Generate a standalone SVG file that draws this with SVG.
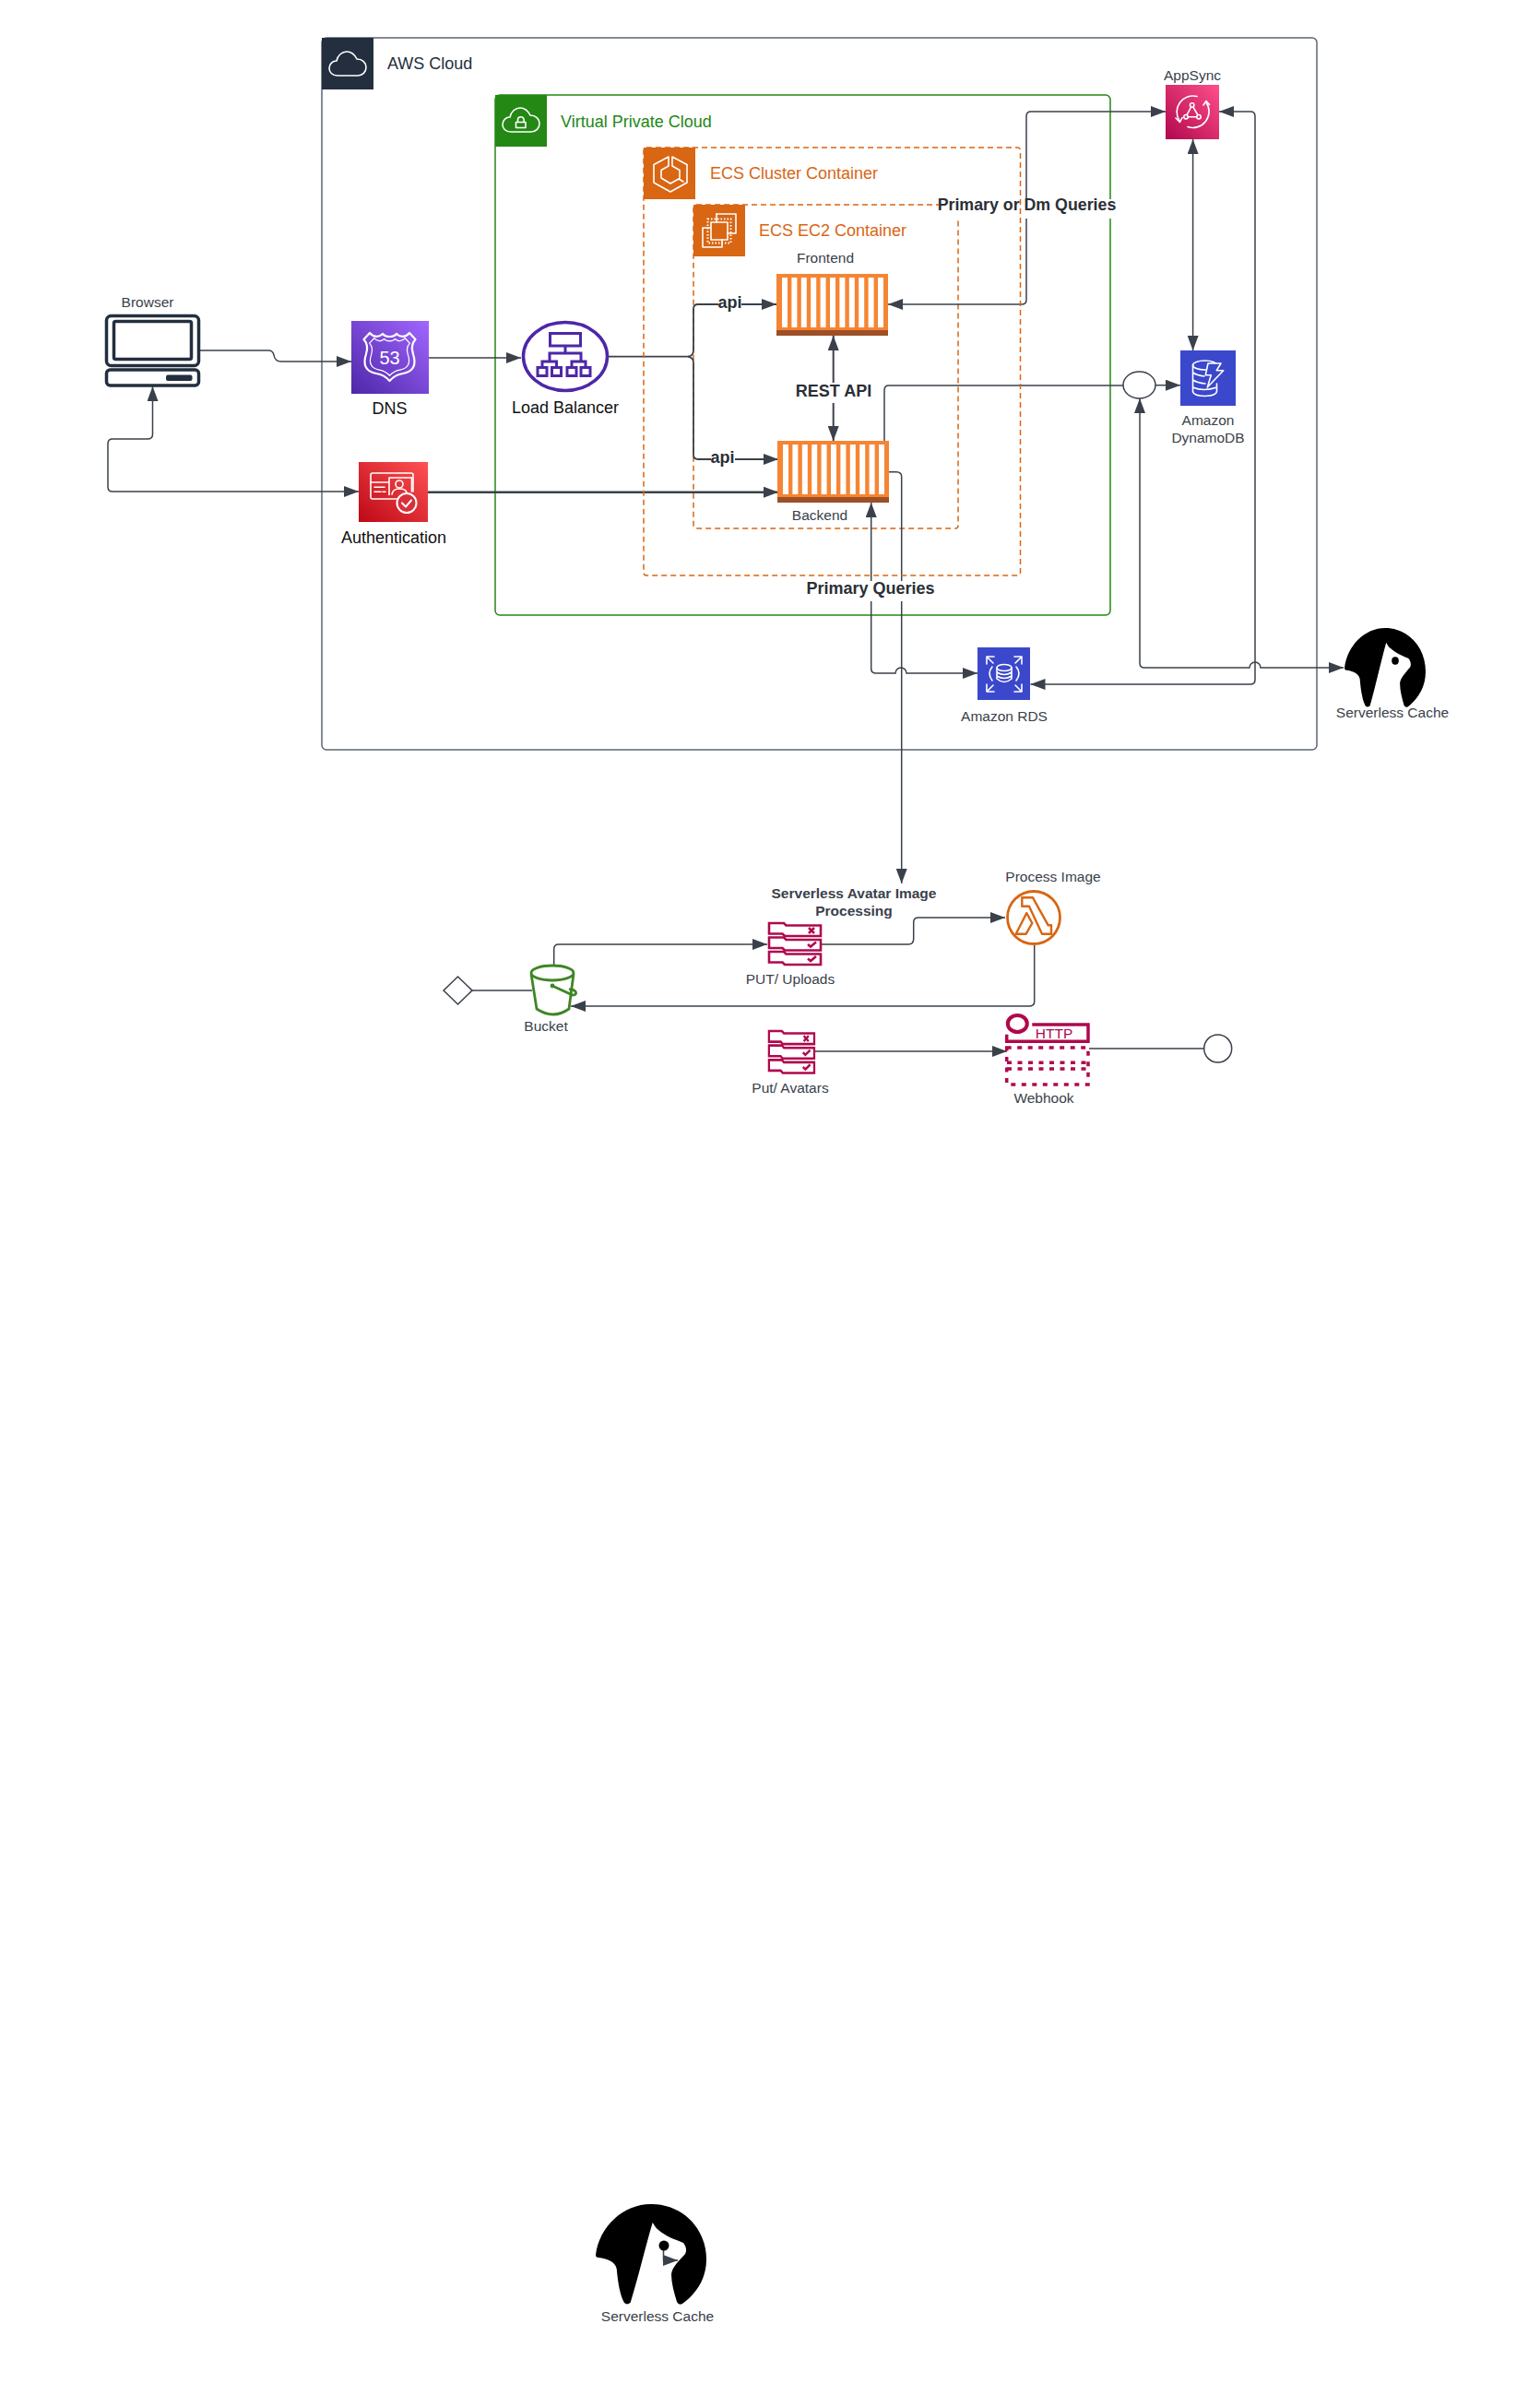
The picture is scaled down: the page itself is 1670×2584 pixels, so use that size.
<svg xmlns="http://www.w3.org/2000/svg" xmlns:xlink="http://www.w3.org/1999/xlink" width="1670" height="2584" viewBox="0 0 1670 2584">
<style>
text{font-family:"Liberation Sans",Arial,sans-serif}
.lbl{font-size:15.5px;fill:#3a414a;text-anchor:middle}
.blk{font-size:18px;fill:#111;text-anchor:middle}
.bold{font-size:18px;font-weight:700;fill:#2b2f36;text-anchor:middle}
.bold2{font-size:15.5px;font-weight:700;fill:#3a414a;text-anchor:middle}
.ttl{font-size:18px}
.c{fill:none;stroke:#3a414a;stroke-width:1.5}
.ar{marker-end:url(#a)}
.ar2{marker-end:url(#a);marker-start:url(#a)}
.w{fill:none;stroke:#fff;stroke-width:1.6;stroke-linejoin:round;stroke-linecap:round}
.w3{fill:none;stroke:#fff;stroke-width:2.2;stroke-linejoin:round;stroke-linecap:round}
.box{fill:#fff}
.dash{fill:none;stroke:#D86613;stroke-width:1.5;stroke-dasharray:6 4}
.cr{fill:none;stroke:#B0084D;stroke-width:2.6}
.o{fill:#F58534}
.od{fill:#9D5025}
</style>
<defs>
<marker id="a" markerUnits="userSpaceOnUse" markerWidth="16" markerHeight="12" refX="16" refY="6" orient="auto-start-reverse"><path d="M0,0 L16,6 L0,12 Z" fill="#3a414a"/></marker>
<linearGradient id="gp" x1="0" y1="1" x2="1" y2="0"><stop offset="0" stop-color="#4D27A8"/><stop offset="1" stop-color="#A166FF"/></linearGradient>
<linearGradient id="gr" x1="0" y1="1" x2="1" y2="0"><stop offset="0" stop-color="#BD0816"/><stop offset="1" stop-color="#FF5252"/></linearGradient>
<linearGradient id="gk" x1="0" y1="1" x2="1" y2="0"><stop offset="0" stop-color="#B0084D"/><stop offset="1" stop-color="#FF4F8B"/></linearGradient>
<path id="cloud" d="M9,26 C3,26 0,22 0,18 C0,13 4,10 8,10 C9,4 14,0 19,0 C25,0 28,4 30,8 C36,8 40,12 40,17 C40,22 36,26 31,26 Z"/>
<path id="dog" d="M0,55 C4,24 30,0 60,0 C95,0 120,27 120,60 C120,82 108,98 94,108 Q90,110 88,106 C85,96 82,86 82,76 C83,68 90,62 97,54 C99,50 98,46 95,42 C85,38 76,35 68,28 C65,26 63,22 61.700,20 C54,46 46,80 37.700,106.700 Q34,110 31,107 C26,98 24,84 22.700,70 C21,62 12,59 3,58 Q0,58 0,55 Z" fill="#000"/>
<g id="row"><path class="cr" d="M1,1 H17 L19.500,3.500 H57 V15 H18 L15.500,12.500 H1 Z"/></g>
<g id="stack">
<use xlink:href="#row"/><use xlink:href="#row" y="15.500"/><use xlink:href="#row" y="31"/>
<path class="cr" d="M44,6 L50,12 M50,6 L44,12"/>
<path class="cr" d="M43,24 L46,26.500 L52,21.500 M43,39.500 L46,42 L52,37"/>
</g>
<g id="cont">
<rect width="121" height="67" class="o"/>
<rect y="61" width="121" height="6" class="od"/>
<rect x="6" y="4" width="6" height="54" class="box"/><rect x="16.400" y="4" width="6" height="54" class="box"/><rect x="26.800" y="4" width="6" height="54" class="box"/><rect x="37.200" y="4" width="6" height="54" class="box"/><rect x="47.600" y="4" width="6" height="54" class="box"/><rect x="58" y="4" width="6" height="54" class="box"/><rect x="68.400" y="4" width="6" height="54" class="box"/><rect x="78.800" y="4" width="6" height="54" class="box"/><rect x="89.200" y="4" width="6" height="54" class="box"/><rect x="99.600" y="4" width="6" height="54" class="box"/><rect x="110" y="4" width="6" height="54" class="box"/>
</g>
</defs>
<rect width="1670" height="2584" fill="#fff"/>

<g id="aws-cloud">
<rect x="349" y="41" width="1079" height="772" rx="5" fill="none" stroke="#5d6673" stroke-width="1.500"/>
<rect x="349" y="41" width="56" height="56" fill="#232F3E"/>
<use xlink:href="#cloud" x="357" y="56" style="fill:none;stroke:#fff;stroke-width:1.600"/>
<text x="420" y="75" class="ttl" fill="#232F3E">AWS Cloud</text>
</g>

<g id="vpc">
<rect x="537" y="103" width="667" height="564" rx="5" fill="none" stroke="#248814" stroke-width="1.500"/>
<rect x="537" y="103" width="56" height="56" fill="#248814"/>
<use xlink:href="#cloud" x="545" y="117" style="fill:none;stroke:#fff;stroke-width:1.600"/>
<rect x="559.500" y="132.500" width="10.500" height="6" class="w"/><path class="w" d="M561.500,132 V130 a3.300,3.300 0 0 1 6.600,0 V132"/>
<text x="608" y="137.500" class="ttl" fill="#248814">Virtual Private Cloud</text>
</g>

<g id="ecs-ec2-container">
<rect x="752" y="222" width="287" height="351" rx="3" class="dash"/>
<rect x="752" y="222" width="56" height="56" fill="#D86613"/>
<path class="w" d="M777,232 H798 V253 H789 M762,247 H770 M762,247 V268 H783 V260"/>
<path class="w" d="M777,232 V241"/>
<rect x="771" y="241" width="18" height="19" class="w"/>
<rect x="767.500" y="237.500" width="25" height="26" fill="none" stroke="#fff" stroke-width="2" stroke-dasharray="1.500 2"/>
<text x="823" y="256" class="ttl" fill="#D86613">ECS EC2 Container</text>
</g>

<g id="connectors">
<path class="c ar" d="M217,380 H291 Q296,380 297,385 Q298,392 305,392 H381"/>
<path class="c ar" d="M465,388 H565"/>
<path class="c ar2" d="M165.500,419 V471 Q165.500,476 160,476 H122 Q117,476 117,481 V528 Q117,533 122,533 H389"/>
<path class="c ar" style="stroke-width:2.400" d="M464,533.700 H844"/>
<path class="c ar" style="stroke-width:1.800" d="M660,386.700 H746 Q752,386 752,380 V335 Q752,330 757,330 H842"/>
<path class="c ar" style="stroke-width:1.800" d="M746,386.700 Q752,388 752,393 V493 Q752,498 757,498 H844"/>
<path class="c ar2" style="stroke-width:2" d="M903.700,364 V478"/>
<path class="c ar2" d="M963,330 H1108 Q1113,330 1113,325 V126 Q1113,121 1118,121 H1264"/>
<path class="c ar2" d="M1322,121 H1356 Q1361,121 1361,126 V737 Q1361,742 1356,742 H1117.500"/>
<path class="c ar2" d="M1293.600,151 V380"/>
<path class="c" d="M959,478 V423 Q959,418 964,418 H1218"/>
<path class="c ar" d="M1253,417.700 H1280"/>
<path class="c ar2" d="M1236,432 V719 Q1236,724 1241,724 H1355 a6,6 0 0 1 12,0 H1457"/>
<path class="c ar" d="M964,511.700 H972 Q977.700,511.700 977.700,517 V958"/>
<path class="c ar2" d="M944.700,545 V725 Q944.700,730 950,730 H971 a6,6 0 0 1 12,0 H1060"/>
<path class="c" d="M512,1074 H577"/>
<path class="c ar" d="M600.700,1047 V1029 Q600.700,1024 606,1024 H832"/>
<path class="c ar" d="M890,1024 H985 Q990.700,1024 990.700,1018 V1000 Q990.700,995 996,995 H1090"/>
<path class="c ar" d="M1121.700,1025 V1086 Q1121.700,1091 1116,1091 H619"/>
<path class="c ar" d="M883,1140 H1092"/>
<path class="c" d="M1181,1137 H1305.700"/>
<path class="c ar" d="M719.500,2437 V2451 H735"/>
</g>

<g id="edge-labels">
<rect x="779" y="320" width="25" height="21" class="box"/><text x="791.500" y="334" class="bold">api</text>
<rect x="771" y="487" width="26" height="21" class="box"/><text x="783.500" y="502" class="bold">api</text>
<rect x="864" y="415" width="80" height="22" class="box"/><text x="904" y="430" class="bold">REST API</text>
<rect x="1018" y="216" width="191" height="21" class="box"/><text x="1113.500" y="227.500" class="bold" style="font-size:17.800px">Primary or Dm Queries</text>
<rect x="876" y="630" width="136" height="22" class="box"/><text x="944" y="644" class="bold">Primary Queries</text>
</g>

<g id="ecs-cluster-container">
<rect x="698" y="160" width="408.500" height="464" rx="3" class="dash"/>
<rect x="698" y="160" width="56" height="56" fill="#D86613"/>
<path class="w" d="M725,170 L709,178.500 V198 L727,208 L745,198 V178.500 L729,170 V180 L737,184.500 V193 M725,170 V180 L717,184.500 V193 L727,199 L736,194 L741,197"/>
<text x="770" y="194" class="ttl" fill="#D86613">ECS Cluster Container</text>
</g>

<g id="browser">
<rect x="115.500" y="342.500" width="100" height="54" rx="5" fill="none" stroke="#232F3E" stroke-width="3.500"/>
<rect x="123.500" y="348.500" width="84" height="41" rx="2" fill="none" stroke="#232F3E" stroke-width="3.500"/>
<rect x="115.500" y="401" width="100" height="17" rx="4" fill="none" stroke="#232F3E" stroke-width="3.500"/>
<rect x="180" y="406.500" width="28.500" height="6.500" rx="2" fill="#232F3E"/>
<text x="160" y="333" class="lbl">Browser</text>
</g>

<g id="dns">
<rect x="381" y="348" width="84" height="79" fill="url(#gp)"/>
<path class="w3" d="M394.500,368 L401,361 C405,366 411,366 415,362 C418,366 427,366 430,362 C434,366 440,366 444,361 L450.500,368 C446,373 446,378 448,384 C452,396 448,403 437,405 C431,406 426,409 422.500,413 C419,409 414,406 408,405 C397,403 393,396 397,384 C399,378 399,373 394.500,368 Z"/>
<path class="w" transform="translate(422.500 387) scale(.78) translate(-422.500 -387)" d="M394.500,368 L401,361 C405,366 411,366 415,362 C418,366 427,366 430,362 C434,366 440,366 444,361 L450.500,368 C446,373 446,378 448,384 C452,396 448,403 437,405 C431,406 426,409 422.500,413 C419,409 414,406 408,405 C397,403 393,396 397,384 C399,378 399,373 394.500,368 Z"/>
<text x="422.500" y="395" font-size="20" fill="#fff" text-anchor="middle">53</text>
<text x="422.500" y="449" class="blk">DNS</text>
</g>

<g id="load-balancer">
<ellipse cx="613" cy="386.500" rx="45.500" ry="37" fill="#fff" stroke="#4D27A8" stroke-width="3.500"/>
<g fill="none" stroke="#4D27A8" stroke-width="3">
<rect x="596.500" y="361.500" width="33" height="13.500"/>
<path d="M613,375 V383 M596,392 V383 H630 V392 M588,398 V392 H603.500 V398 M620,398 V392 H635 V398"/>
<rect x="583" y="398.500" width="10" height="9"/><rect x="598.500" y="398.500" width="10" height="9"/><rect x="615" y="398.500" width="10" height="9"/><rect x="630" y="398.500" width="10" height="9"/>
</g>
<text x="613" y="448" class="blk">Load Balancer</text>
</g>

<g id="authentication">
<rect x="389" y="501" width="75" height="65" fill="url(#gr)"/>
<path class="w" d="M431,541 H404 Q402,541 402,539 V515 Q402,513 404,513 H446 Q448,513 448,515 V533"/>
<path class="w" d="M402,523 H422 M422,536.500 V518 H446.500 V533 M406,528.300 H417 M406,533.300 H413 M415,533.300 H418"/>
<circle cx="433" cy="525" r="4" class="w"/>
<path class="w" d="M425,536 Q426,530 433,530 Q440,530 441,534"/>
<circle cx="441" cy="545.500" r="10.500" fill="#d8303a" stroke="#fff" stroke-width="2"/>
<path class="w" style="stroke-width:2" d="M436,545.500 L440,549.500 L446,542.500"/>
<text x="427" y="589" class="blk">Authentication</text>
</g>

<g id="frontend">
<use xlink:href="#cont" x="842" y="297"/>
<text x="895" y="285" class="lbl">Frontend</text>
</g>

<g id="backend">
<use xlink:href="#cont" x="843" y="478"/>
<text x="889" y="563.500" class="lbl">Backend</text>
</g>

<g id="appsync">
<rect x="1264" y="92" width="58" height="59" fill="url(#gk)"/>
<path class="w" d="M1298,104.500 A17.500,17.500 0 0 0 1279,131 M1288,137.500 A17.500,17.500 0 0 0 1308,111"/>
<path class="w" d="M1275,128 L1279.500,132.500 L1282,127.500 M1305,114 L1308,109.500 L1311.500,113.500"/>
<path class="w" d="M1292.700,114 L1300,126.700 H1286 Z"/>
<circle cx="1292.700" cy="114" r="2.200" class="w" style="fill:#d62a68"/><circle cx="1286" cy="126.700" r="2.200" class="w" style="fill:#d62a68"/><circle cx="1300" cy="126.700" r="2.200" class="w" style="fill:#d62a68"/>
<text x="1293" y="87" class="lbl">AppSync</text>
</g>

<g id="dynamodb">
<rect x="1280" y="380" width="60" height="60" fill="#3B48CC"/>
<ellipse cx="1306.500" cy="396" rx="13" ry="5" class="w"/>
<path class="w" d="M1293.500,396 V424 Q1293.500,429 1306.500,429.500 Q1319.500,429 1319.500,424 V416 M1293.500,404 Q1298,407 1306,408 M1293.500,412 Q1298,415 1307,416 M1293.500,420 Q1305,425 1319.500,420"/>
<path class="w" d="M1310,394 H1324 L1319.300,401.700 H1326.700 L1309.300,420 L1313.300,406.700 H1307.300 Z" style="fill:#3B48CC"/>
<text x="1310" y="460.500" class="lbl">Amazon</text>
<text x="1310" y="480" class="lbl">DynamoDB</text>
</g>

<g id="junction-top">
<ellipse cx="1235.500" cy="417.500" rx="17.500" ry="14.500" fill="#fff" stroke="#3a414a" stroke-width="1.500"/>
</g>

<g id="rds">
<rect x="1060" y="702" width="57" height="57" fill="#3B48CC"/>
<ellipse cx="1089" cy="724" rx="8" ry="3.500" class="w"/>
<path class="w" d="M1081,724 V736 Q1089,743 1097,736 V724 M1081,729 Q1089,734 1097,729 M1081,733 Q1089,738 1097,733"/>
<path class="w" d="M1076,723 Q1070,730 1076,738 M1102,723 Q1108,730 1102,738"/>
<path class="w" d="M1070,720 V712 H1078 M1070,712 L1077,719 M1108,720 V712 H1100 M1108,712 L1101,719 M1070,742 V750 H1078 M1070,750 L1077,743 M1108,742 V750 H1100 M1108,750 L1101,743"/>
<text x="1089" y="782" class="lbl">Amazon RDS</text>
</g>

<g id="cache-top">
<use xlink:href="#dog" transform="translate(1458 681) scale(.733 .789)"/>
<ellipse cx="1513" cy="716.500" rx="3.800" ry="4.200" fill="#000"/>
<text x="1510" y="778" class="lbl">Serverless Cache</text>
</g>

<g id="bucket">
<ellipse cx="599" cy="1055" rx="23" ry="8" fill="none" stroke="#3F8624" stroke-width="2.800"/>
<path d="M576,1056 L582,1094 Q600,1106 617,1094 L622,1056" fill="none" stroke="#3F8624" stroke-width="2.800"/>
<path d="M599,1069 L621,1079 Q626,1079 624,1075 Q621,1072 617,1073" fill="none" stroke="#3F8624" stroke-width="2.800"/>
<circle cx="599" cy="1069" r="2.400" fill="#3F8624"/>
<text x="592" y="1118" class="lbl">Bucket</text>
</g>

<g id="bucket-start">
<path d="M496.500,1059 L512,1074 L496.500,1089 L481,1074 Z" fill="#fff" stroke="#3a414a" stroke-width="1.500"/>
</g>

<g id="put-uploads">
<use xlink:href="#stack" x="833" y="1000"/>
<text x="857" y="1067" class="lbl">PUT/ Uploads</text>
</g>

<g id="avatar-title">
<text x="926" y="974" class="bold2">Serverless Avatar Image</text>
<text x="926" y="993" class="bold2">Processing</text>
</g>

<g id="process-image">
<circle cx="1121" cy="995" r="28.500" fill="#fff" stroke="#D86613" stroke-width="2.800"/>
<path d="M1108.300,973.300 H1120 L1136.700,1003.300 H1140 V1012.700 H1130 L1116,982.700 H1108.300 Z M1113.300,990 L1119.300,1001 L1112.700,1012.700 H1101.700 Z" fill="none" stroke="#D86613" stroke-width="2.400" stroke-linejoin="round"/>
<text x="1142" y="956" class="lbl">Process Image</text>
</g>

<g id="put-avatars">
<use xlink:href="#stack" transform="translate(833 1117) scale(.877 1.010)"/>
<text x="857" y="1185" class="lbl">Put/ Avatars</text>
</g>

<g id="webhook">
<ellipse cx="1103.300" cy="1110" rx="10.500" ry="9" fill="none" stroke="#B0084D" stroke-width="4"/>
<path d="M1119.300,1111 H1180 V1129.300 H1091.700 V1121.700" fill="none" stroke="#B0084D" stroke-width="3.500"/>
<text x="1143" y="1125.500" font-size="15.500" fill="#B0084D" text-anchor="middle">HTTP</text>
<rect x="1091.700" y="1136" width="88.300" height="40" fill="none" stroke="#B0084D" stroke-width="3.500" stroke-dasharray="5 6.500"/>
<path d="M1092,1152.300 H1180 M1092,1159 H1180" fill="none" stroke="#B0084D" stroke-width="3.500" stroke-dasharray="5 6.500"/>
<text x="1132" y="1196" class="lbl">Webhook</text>
</g>

<g id="webhook-end">
<circle cx="1320.700" cy="1137" r="15" fill="#fff" stroke="#3a414a" stroke-width="1.500"/>
</g>

<g id="cache-bottom">
<use xlink:href="#dog" x="646" y="2390"/>
<circle cx="720" cy="2435" r="5.500" fill="#000"/>
<text x="713" y="2517" class="lbl">Serverless Cache</text>
</g>
</svg>
